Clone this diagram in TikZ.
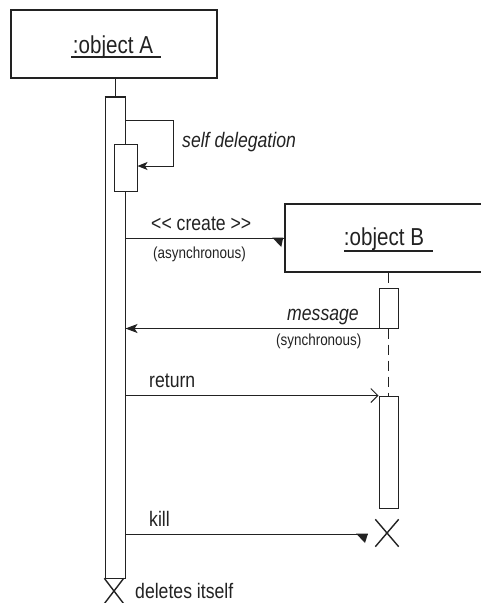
\documentclass[tikz,border=0pt]{standalone}
\usepackage{fontspec}
\setmainfont{Liberation Sans}[FakeStretch=0.84]
\usetikzlibrary{arrows.meta,shapes.misc}
\definecolor{ink}{HTML}{222222}
\begin{document}
\begin{tikzpicture}[x=1pt,y=-1pt, color=ink,
  box/.style={draw=ink, line width=1.5pt, rectangle, inner sep=0},
  bar/.style={draw=ink, line width=1pt, fill=white, rectangle, inner sep=0},
  ln/.style={draw=ink, line width=1pt},
  big/.style={text=ink, font=\fontsize{21}{24}\selectfont, inner sep=0, anchor=base west},
  bigit/.style={text=ink, font=\fontsize{21}{24}\selectfont\itshape, inner sep=0, anchor=base west},
  sm/.style={text=ink, font=\fontsize{16}{18}\selectfont, inner sep=0, anchor=base west},
  ttl/.style={text=ink, font=\fontsize{24.5}{28}\selectfont, inner sep=0, anchor=base},
  xmark/.style={cross out, draw=ink, line width=1.4pt, inner sep=0},
  fullarrow/.style={-{Stealth[length=12pt,width=9pt,inset=3pt]}},
  smallarrow/.style={-{Stealth[length=10pt,width=8pt,inset=2.5pt]}},
  openarrow/.style={-{Straight Barb[length=7pt,width=14pt,line width=1pt]}},
]
\path[use as bounding box] (0,0) rectangle (481,603);
\clip (0,0) rectangle (481,603);

% object A
\node[box, minimum width=206pt, minimum height=68pt] (objA) at (114,44) {};
\node[ttl] (tA) at (113,53) {:object A};
\draw[line width=1.2pt] (71,57) -- (161,57);

% object B (runs off the right edge)
\node[box, minimum width=220pt, minimum height=68pt] (objB) at (395,238) {};
\node[ttl] (tB) at (384,245) {:object B};
\draw[line width=1.2pt] (344,251) -- (433,251);

% activation of A
\node[bar, minimum width=20pt, minimum height=481pt] (actA) at (115,337.5) {};
\draw[line width=2pt] (actA.north west) -- (actA.north east);
\draw[ln] (actA.north |- objA.south) -- (actA.north);

% self delegation
\node[bar, minimum width=23pt, minimum height=47pt] (selfbox) at (125.5,167.5) {};
\coordinate (sd1) at (173,120);
\coordinate (sd2) at (173,166);
\draw[ln, smallarrow] (actA.east |- sd1) -- (sd1) -- (sd2) -- (selfbox.east |- sd2);
\node[bigit] (tsd) at (182,147) {self delegation};

% activations of B
\node[bar, minimum width=19pt, minimum height=40pt] (actB1) at (388.5,308) {};
\node[bar, minimum width=19pt, minimum height=112pt] (actB2) at (388.5,452) {};
\draw[ln, dash pattern=on 10pt off 6pt] (actB1.north |- objB.south) -- (actB1.north);
\draw[ln, dash pattern=on 10pt off 6pt] (actB1.south) -- (actB2.north);

% create
\draw[ln] (actA.east |- objB.west) -- (objB.west);
\fill[ink] (objB.west) ++(-1,-0.5) -- ++(-11,0) -- ++(9,9.5) -- cycle;
\node[big] (tcr) at (151,230) {<\kern0pt< create >\kern0pt>};
\node[sm] (tas) at (153,258) {(asynchronous)};

% message
\draw[ln, fullarrow] (actB1.south west) -- (actA.east |- actB1.south west);
\node[bigit] (tmsg) at (287,320) {message};
\node[sm] (tsy) at (276,345) {(synchronous)};

% return
\draw[ln, openarrow] (actA.east |- actB2.north west) -- (actB2.north west);
\node[big] (tret) at (149,387) {return};

% kill
\node[xmark, minimum width=22pt, minimum height=26pt] (xB) at (387,533) {};
\coordinate (kt) at (368,534);
\draw[ln] (actA.east |- kt) -- (kt);
\fill[ink] (kt) ++(0,-0.5) -- ++(-12,0) -- ++(9,9.5) -- cycle;
\node[big] (tkill) at (149,526) {kill};

% deletes itself
\node[xmark, minimum width=18pt, minimum height=24pt] (xA) at (114,591) {};
\node[big] (tdel) at (135,598) {deletes itself};
\end{tikzpicture}
\end{document}
